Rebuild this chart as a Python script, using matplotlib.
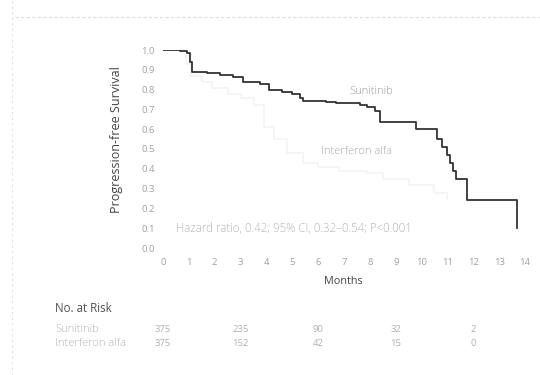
import numpy as np
import matplotlib.pyplot as plt
import matplotlib.transforms as mtransforms
from matplotlib.lines import Line2D

plt.rcParams['font.family'] = ['Open Sans', 'DejaVu Sans']

# Kaplan-Meier steps (months, survival probability)
sun_t = [0, 0.66, 0.93, 1.05, 1.12, 1.7, 2.2, 2.7, 3.1, 3.75, 4.1, 4.6, 5.0, 5.3, 5.4,
         6.3, 6.7, 7.6, 7.9, 8.2, 8.4, 9.8, 10.6, 10.8, 11.0, 11.1, 11.2, 11.35, 11.75, 13.7]
sun_s = [1.0, 0.995, 0.985, 0.94, 0.89, 0.885, 0.875, 0.865, 0.84, 0.83, 0.80, 0.79, 0.78, 0.76, 0.74,
         0.735, 0.73, 0.72, 0.71, 0.69, 0.635, 0.60, 0.55, 0.51, 0.47, 0.43, 0.39, 0.35, 0.24, 0.10]
ifn_t = [0, 0.9, 1.1, 1.5, 1.9, 2.5, 3.0, 3.5, 3.9, 4.3, 4.8, 5.4, 6.0, 6.8, 7.9, 8.5, 9.5, 10.5, 11.0]
ifn_s = [1.0, 0.93, 0.87, 0.84, 0.81, 0.78, 0.76, 0.72, 0.61, 0.55, 0.48, 0.43, 0.41, 0.39, 0.38, 0.35,
         0.32, 0.28, 0.25]

risk_months = [0, 3, 6, 9, 12]
risk_sun = [375, 235, 90, 32, 2]
risk_ifn = [375, 152, 42, 15, 0]

fig = plt.figure(figsize=(5.4, 3.75), dpi=100)
W, H = 540, 375

ax = fig.add_axes([163 / W, 1 - 248 / H, 362 / W, 198 / H])
ax.step(ifn_t, ifn_s, where='post', color='#f3f3f3', lw=1.2)
ax.step(sun_t, sun_s, where='post', color='#333333', lw=1.3)
ax.set_xlim(0, 14)
ax.set_ylim(0, 1.0)
ax.set_xticks(range(15))
ax.set_yticks(np.arange(0, 1.01, 0.1))
ax.set_yticklabels([f"{v:.1f}" for v in np.arange(0, 1.01, 0.1)])
ax.tick_params(length=0, labelsize=6.8, colors='#a0a0a0')
ax.tick_params(axis='x', pad=7)
ax.tick_params(axis='y', pad=6)
for s in ax.spines.values():
    s.set_visible(False)

ax.set_ylabel('Progression-free Survival', fontsize=9, color='#444444')
ax.yaxis.set_label_coords(-0.11, 0.55)
ax.set_xlabel('Months', fontsize=7.8, color='#444444')
ax.xaxis.set_label_coords(0.497, -0.14)

ax.text(8.05, 0.79, 'Sunitinib', fontsize=8, color='#9a9a9a', ha='center', va='center',
        fontweight='light')
ax.text(7.5, 0.485, 'Interferon alfa', fontsize=8, color='#a8a8a8', ha='center', va='center',
        fontweight='light')
ax.text(0.5, 0.1, 'Hazard ratio, 0.42; 95% CI, 0.32\u20130.54; P<0.001', fontsize=8.3,
        color='#b4b4b4', ha='left', va='center', fontweight='light')

# number-at-risk table, columns aligned with the month axis
fig.text(55 / W, 1 - 308 / H, 'No. at Risk', fontsize=8.3, color='#505050', va='center')
fig.text(55 / W, 1 - 329 / H, 'Sunitinib', fontsize=8, color='#b4b4b4', va='center',
         fontweight='light')
fig.text(55 / W, 1 - 344 / H, 'Interferon alfa', fontsize=8, color='#b4b4b4', va='center',
         fontweight='light')

trans = mtransforms.blended_transform_factory(ax.transData, fig.transFigure)
for m, a, b in zip(risk_months, risk_sun, risk_ifn):
    fig.text(m, 1 - 329 / H, str(a), fontsize=6.8, color='#b0b0b0', ha='center', va='center',
             transform=trans)
    fig.text(m, 1 - 344 / H, str(b), fontsize=6.8, color='#b0b0b0', ha='center', va='center',
             transform=trans)

# faint page edges
fig.add_artist(Line2D([15 / W, 1], [1 - 17 / H, 1 - 17 / H], color='#dddddd', lw=0.8, ls=(0, (3, 2))))
fig.add_artist(Line2D([12 / W, 12 / W], [0, 1], color='#e2e2e2', lw=0.8, ls=(0, (2, 3))))

fig.savefig('out.png', dpi=100)
